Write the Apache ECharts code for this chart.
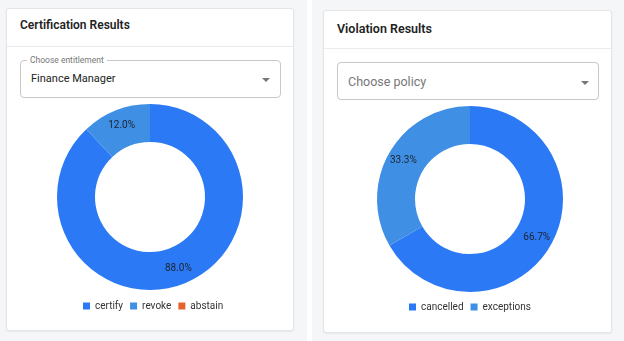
<!DOCTYPE html>
<html>
<head>
<meta charset="utf-8">
<script src="https://cdn.jsdelivr.net/npm/echarts@6/dist/echarts.min.js"></script>
<style>
  html, body { margin:0; padding:0; width:624px; height:341px; overflow:hidden; background:#f5f6f7; font-family: Roboto, "Noto Sans", sans-serif; }
  .strip { position:absolute; left:307px; top:0; width:5px; height:341px; background:#ffffff; }
  .card { position:absolute; background:#fff; border:1px solid #e4e5e7; border-radius:3px; box-shadow:0 1px 2px rgba(0,0,0,0.06); box-sizing:border-box; }
  .hdr { position:absolute; left:0; right:0; border-bottom:1px solid #ebebeb; }
  .title { position:absolute; font-weight:600; color:#222; white-space:nowrap; }
  .sel { position:absolute; border:1px solid #c8c8c8; border-radius:4px; box-sizing:border-box; background:#fff; }
  .sel .txt { position:absolute; left:10px; white-space:nowrap; }
  .sel .lbl { position:absolute; left:6px; top:-6px; padding:0 3px; font-size:8.5px; color:#777; background:#fff; line-height:11px; white-space:nowrap; }
  .arrow { position:absolute; width:0; height:0; border-left:4px solid transparent; border-right:4px solid transparent; border-top:4px solid #777; }
  #chart { position:absolute; left:0; top:0; width:624px; height:341px; }
</style>
</head>
<body>
<div class="strip"></div>
<div class="card" style="left:6px; top:8px; width:288px; height:323px;">
  <div class="hdr" style="top:0; height:37px;"></div>
  <div class="title" style="left:13px; top:9px; font-size:12px;">Certification Results</div>
  <div class="sel" style="left:13px; top:51px; width:261px; height:38px;">
    <div class="lbl">Choose entitlement</div>
    <div class="txt" style="top:11px; color:#222; font-size:11px;">Finance Manager</div>
    <div class="arrow" style="left:241px; top:17px;"></div>
  </div>
</div>
<div class="card" style="left:323px; top:10px; width:289px; height:323px;">
  <div class="hdr" style="top:0; height:37px;"></div>
  <div class="title" style="left:13px; top:10px; font-size:12.5px;">Violation Results</div>
  <div class="sel" style="left:13px; top:51px; width:262px; height:38px;">
    <div class="txt" style="top:11px; color:#777; font-size:12.5px;">Choose policy</div>
    <div class="arrow" style="left:243px; top:18px;"></div>
  </div>
</div>
<div id="chart"></div>
<script>
var certCategories = ['certify', 'revoke', 'abstain'];
var certValues = [88, 12, 0];
var violCategories = ['cancelled', 'exceptions'];
var violValues = [2, 1];

var palette = { certify:'#2b79f5', revoke:'#3f8fe4', abstain:'#e6642a', cancelled:'#2b79f5', exceptions:'#3f8fe4' };

function build(cats, vals) {
  return cats.map(function (c, i) {
    return { name: c, value: vals[i], itemStyle: { color: palette[c] } };
  });
}
function fmt(p) {
  if (!p.value) return '';
  return p.percent.toFixed(1) + '%';
}

var chart = echarts.init(document.getElementById('chart'), null, { renderer: 'canvas' });
var label = { show: true, position: 'inside', formatter: fmt, color: '#1c2430', fontSize: 10, fontFamily: 'Roboto', textBorderWidth: 0 };
var legendText = { fontSize: 10, color: '#333', fontFamily: 'Roboto' };
chart.setOption({
  animation: false,
  backgroundColor: 'transparent',
  legend: [
    { data: certCategories, left: 83, top: 301, padding: 0, icon: 'rect', itemWidth: 7, itemHeight: 7, itemGap: 7, textStyle: legendText },
    { data: violCategories, left: 409, top: 302, padding: 0, icon: 'rect', itemWidth: 7, itemHeight: 7, itemGap: 7, textStyle: legendText }
  ],
  series: [
    { type: 'pie', center: [150, 197], radius: [55, 93], startAngle: 90, label: label, labelLine: { show: false },
      itemStyle: { borderWidth: 0 }, emphasis: { disabled: true }, data: build(certCategories, certValues) },
    { type: 'pie', center: [470, 199], radius: [55, 93], startAngle: 90, label: label, labelLine: { show: false },
      itemStyle: { borderWidth: 0 }, emphasis: { disabled: true }, data: build(violCategories, violValues) }
  ]
});
</script>
</body>
</html>
